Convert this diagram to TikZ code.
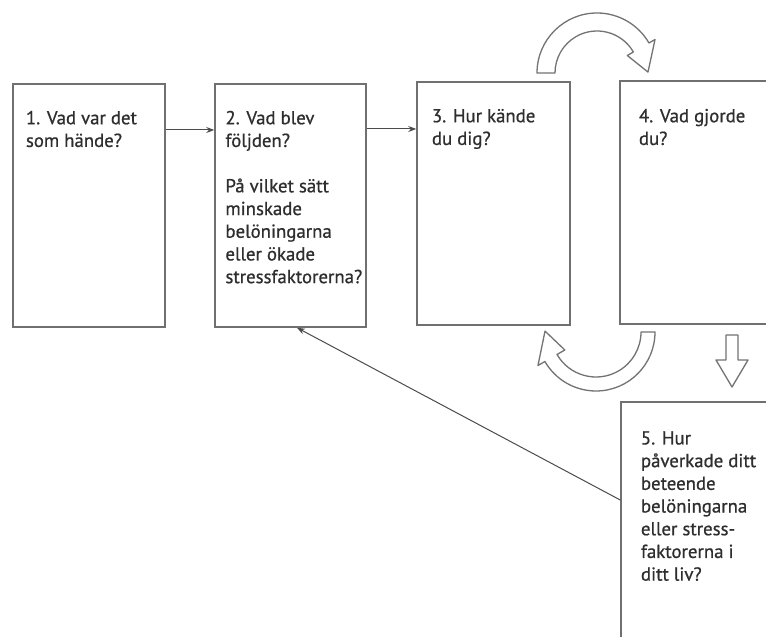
\documentclass[tikz,border=0pt]{standalone}
\usepackage{fontspec}
\setmainfont[FakeBold=0.7]{PT Sans}
\usetikzlibrary{arrows.meta}
\definecolor{boxline}{HTML}{707070}
\definecolor{txtcol}{HTML}{2E2E2E}
\tikzset{
  box/.style={draw=boxline, line width=1.5pt, fill=white, rectangle, inner sep=0pt},
  txt/.style={anchor=north west, inner sep=0pt, align=left, text=txtcol,
              font=\fontsize{18.8}{22.7}\selectfont},
  conn/.style={draw=black!70, line width=1pt, -{Stealth[length=8pt,width=6pt]}},
  blockarrow/.style={draw=black!55, line width=1.3pt, fill=white, line join=round},
}
\begin{document}
\begin{tikzpicture}[x=1pt,y=1pt]
\useasboundingbox (0,0) rectangle (766,637);
\fill[white] (0,0) rectangle (766,637);
\clip (0,0) rectangle (766,637);

% boxes
\node[box, minimum width=152pt, minimum height=243pt] (b1) at (89,431.5) {};
\node[box, minimum width=151pt, minimum height=243pt] (b2) at (290.5,431.5) {};
\node[box, minimum width=153pt, minimum height=243pt] (b3) at (493.5,433.5) {};
\node[box, minimum width=180pt, minimum height=243pt] (b4) at (710,434.5) {};
\node[box, minimum width=179pt, minimum height=278pt] (b5) at (710.5,96) {};

% texts
\node[txt] (t1) at ([xshift=13.5pt,yshift=-24.9pt]b1.north west)
  {\strut 1. Vad var det\\som hände?};
\node[txt] (t2) at ([xshift=11pt,yshift=-24.9pt]b2.north west)
  {\strut 2. Vad blev\\följden?\\[22.7pt]På vilket sätt\\minskade\\belöningarna\\eller ökade\\stressfaktorerna?};
\node[txt] (t3) at ([xshift=15.5pt,yshift=-24.9pt]b3.north west)
  {\strut 3. Hur kände\\du dig?};
\node[txt] (t4) at ([xshift=19.5pt,yshift=-25.9pt]b4.north west)
  {\strut 4. Vad gjorde\\du?};
\node[txt] (t5) at ([xshift=20.5pt,yshift=-27.1pt]b5.north west)
  {\strut 5. Hur\\påverkade ditt\\beteende\\belöningarna\\eller stress-\\faktorerna i\\ditt liv?};

% connectors
\draw[conn] ([yshift=75.5pt]b1.east) -- ([yshift=75.5pt]b2.west);
\draw[conn] ([yshift=76.5pt]b2.east) -- ([yshift=74.5pt]b3.west);
\draw[conn] ([yshift=41pt]b5.west) -- ([xshift=6.5pt]b2.south);

% curved block arrow on top (3 -> 4)
\begin{scope}[shift={(597,564)}]
\draw[blockarrow] (180:60) arc[start angle=180,end angle=30,radius=60]
  -- (30:67) -- (1:51) -- (30:35) -- (30:42)
  arc[start angle=30,end angle=180,radius=42] -- cycle;
\end{scope}

% curved block arrow below (4 -> 3)
\begin{scope}[shift={(596,305)}]
\draw[blockarrow] (0:59) arc[start angle=0,end angle=-150,radius=59]
  -- (-150:67) -- (179:51) -- (-150:36) -- (-150:45)
  arc[start angle=-150,end angle=0,radius=45] -- cycle;
\end{scope}

% straight block arrow down (4 -> 5)
\draw[blockarrow] (726,302) -- (726,277) -- (716,277) -- (732,250)
  -- (748,277) -- (738,277) -- (738,302) -- cycle;
\end{tikzpicture}
\end{document}
